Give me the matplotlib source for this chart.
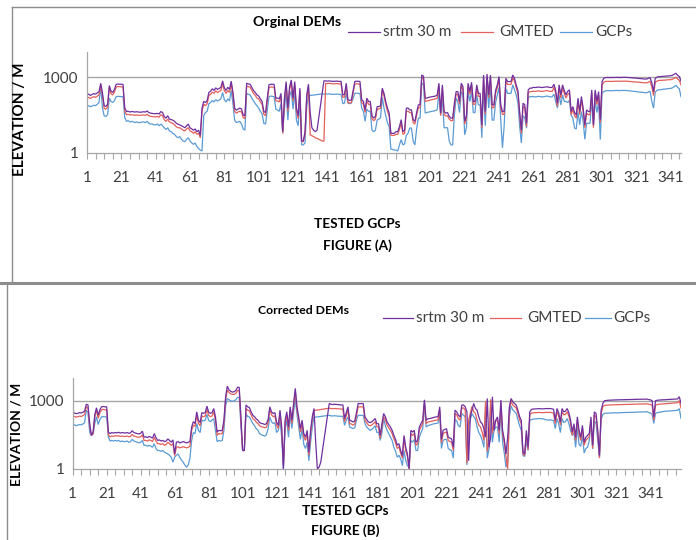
import numpy as np
import matplotlib
matplotlib.use("Agg")
import matplotlib.pyplot as plt
from matplotlib.lines import Line2D
from matplotlib.ticker import FixedLocator, NullLocator

nan = np.nan

# ---- Figure (A): original DEMs, elevation (m) for every tested GCP ----
srtm_a = [
   200, 215, 190, 210, 225, 215, 240, 270, 580, 240,
   75, 70, 85, 470, 280, 250, 330, 520, 540, 530,
   530, 520, 60, 44, 45, 42, 44, 43, 42, 43,
   42, 41, 42, 43, 42, 46, 40, 38, 37, 36,
   36, 37, 35, 44, 40, 28, 24, 30, 22, 21,
   20, 18, 15, 14, 13, 12, 11, 10, 12, 14,
   10, 9, 8, 9, 7, 8, 5, 60, 110, 100,
   120, 250, 280, 350, 300, 380, 330, 360, 400, 720,
   380, 300, 400, 330, 700, 260, 60, 50, 55, 60,
   55, 32, 30, 580, 540, 530, 400, 300, 250, 200,
   180, 140, 110, 44, 40, 150, 500, 530, 530, 520,
   148, 150, 140, 230, 7, 148, 675, 60, 430, 780,
   148, 675, 60, 30, 370, 3, 3, 7, 200, 530,
   40, 10, 8, 7, 8, nan, nan, nan, 720, 720,
   700, 720, 700, 690, 690, 700, 700, 680, 690, 200,
   210, 580, 130, 120, 128, 300, 675, 700, 690, 680,
   130, 110, 51, 148, 110, 110, 30, 24, 28, 69,
   69, 75, 370, 230, 110, 60, 38, 6, 6, 6,
   7, 7, 11, 21, 7, 8, 60, 60, 51, 51,
   21, 18, 40, 81, 81, 1230, 1100, 148, 150, 160,
   165, 170, 175, 180, 200, 580, 38, 500, 44, 38,
   40, 28, 24, 24, 94, 270, 270, 110, 580, 430,
   18, 30, 580, 270, 635, 110, 110, 500, 230, 230,
   13, 1230, 44, 1350, 200, 1230, 81, 81, 300, 500,
   1065, 81, 44, 44, 910, 675, 675, 675, 1230, 910,
   500, 300, 44, 8, 94, 81, 15, 315, 370, 370,
   400, 390, 400, 410, 400, 390, 400, 410, 420, 400,
   390, 400, 530, 300, 94, 500, 200, 500, 300, 200,
   280, 315, 44, 69, 40, 32, 148, 44, 172, 60,
   13, 51, 44, 44, 315, 13, 315, 110, 270, 21,
   675, 910, 970, 980, 980, 970, 980, 980, 990, 990,
   980, 990, 990, 1000, 990, 980, 970, 960, 940, 930,
   920, 900, 890, 880, 860, 850, 850, 910, 970, 600,
   270, 910, 1000, 1065, 1065, 1080, 1100, 1100, 1120, 1150,
   1150, 1200, 1300, 1440, 1200, 1065, 700]

gmted_a = [
   150, 160, 145, 160, 170, 160, 180, 200, 480, 190,
   58, 55, 65, 380, 220, 200, 260, 410, 430, 420,
   420, 400, 45, 33, 34, 32, 33, 32, 31, 32,
   31, 31, 32, 32, 31, 34, 30, 28, 28, 27,
   27, 28, 26, 33, 30, 21, 18, 22, 17, 16,
   15, 13, 11, 10, 10, 9, 8, 7.5, 9, 10,
   7.5, 7, 6, 7, 5.5, 6, 4, 45, 85, 75,
   90, 190, 210, 260, 230, 290, 250, 270, 300, 560,
   290, 230, 300, 250, 540, 200, 45, 38, 42, 45,
   42, 25, 23, 450, 420, 410, 300, 230, 190, 150,
   140, 105, 85, 34, 30, 115, 390, 410, 410, 400,
   115, 115, 105, 175, 6, 115, 520, 45, 330, 600,
   115, 520, 45, 23, 290, 2.8, 2.8, 5.3, 150, 410,
   5.3, 4.8, 4.5, 4.0, 3.8, 3.5, 3.2, 3.0, 2.9, 580,
   560, 580, 560, 550, 550, 560, 560, 540, 550, 160,
   165, 450, 100, 95, 100, 230, 530, 550, 540, 530,
   100, 85, 40, 115, 85, 85, 23, 19, 22, 55,
   55, 60, 300, 180, 85, 45, 30, 5, 5, 5,
   5.5, 5.5, 8.5, 16, 5.5, 6, 45, 45, 40, 40,
   16, 14, 31, 62, 62, 1000, 850, 110, 115, 120,
   125, 130, 135, 140, 150, 450, 30, 390, 34, 29,
   30, 22, 19, 19, 72, 210, 210, 85, 450, 330,
   14, 23, 450, 210, 500, 85, 85, 390, 175, 175,
   10, 950, 34, 1050, 155, 950, 62, 62, 230, 390,
   830, 62, 34, 34, 700, 520, 520, 520, 950, 700,
   390, 230, 34, 6, 72, 62, 11, 245, 270, 270,
   280, 275, 280, 290, 280, 275, 280, 290, 300, 280,
   275, 280, 400, 230, 70, 380, 150, 380, 230, 150,
   210, 240, 33, 52, 30, 24, 110, 33, 130, 45,
   10, 38, 33, 33, 240, 10, 240, 82, 200, 16,
   480, 640, 680, 690, 690, 680, 690, 690, 700, 700,
   690, 700, 700, 700, 700, 690, 680, 675, 660, 655,
   650, 640, 630, 620, 610, 600, 600, 640, 680, 420,
   190, 640, 700, 750, 750, 760, 770, 770, 790, 800,
   800, 840, 900, 1000, 850, 750, 500]

gcps_a = [
   70, 75, 68, 72, 78, 75, 85, 100, 430, 60,
   30, 28, 33, 148, 110, 100, 120, 170, 175, 172,
   172, 170, 25, 18, 19, 17, 18, 17, 16, 17,
   16, 16, 17, 17, 16, 18, 15, 14, 14, 13,
   13, 14, 12, 14, 12, 10, 8.5, 10, 7.5, 7,
   6, 5.5, 4.5, 4, 4.5, 3.5, 3, 2.8, 3.5, 4,
   3, 2.5, 2.2, 2.5, 1.8, 1.5, 1.3, 1.2, 30, 40,
   45, 90, 100, 120, 105, 130, 115, 125, 140, 250,
   130, 105, 140, 115, 300, 90, 20, 16, 17, 18,
   14, 9, 8, 230, 210, 200, 150, 115, 90, 75,
   60, 45, 35, 15, 14, 50, 170, 180, 175, 170,
   55, 50, 45, 90, 6, 55, 250, 20, 170, 290,
   55, 250, 20, 12, 130, 2.1, 2.1, 2.5, 70, 185,
   nan, nan, nan, nan, nan, nan, nan, 220, 215, 220,
   215, 220, 215, 210, 210, 215, 215, 210, 210, 90,
   95, 230, 95, 90, 95, 150, 230, 235, 230, 225,
   60, 45, 18, 55, 45, 45, 8, 7, 8, 20,
   22, 25, 160, 60, 30, 16, 11, 1.4, 1.4, 1.3,
   1.3, 1.2, 2.1, 3.4, 2.1, 2.3, 5, 6, 9.7, 9.7,
   2.9, 2.1, 9, 24, 24, 600, 500, 38, 40, 42,
   43, 45, 46, 48, 52, 250, 32, 150, 10, 10,
   10, 3, 2.1, 2.1, 32, 148, 110, 40, 270, 200,
   5.3, 10, 270, 110, 300, 40, 40, 200, 80, 80,
   4, 500, 12, 600, 60, 500, 20, 20, 100, 200,
   400, 20, 1.6, 12, 350, 230, 230, 230, 500, 330,
   200, 100, 12, 2.5, 30, 25, 9.7, 150, 170, 172,
   172, 165, 170, 175, 172, 165, 170, 175, 180, 172,
   165, 170, 215, 110, 60, 200, 80, 200, 110, 110,
   100, 120, 32, 24, 9.7, 9, 44, 13, 44, 18,
   3.5, 15, 15, 15, 128, 13, 120, 40, 100, 3.4,
   230, 270, 290, 295, 295, 290, 295, 295, 300, 300,
   295, 300, 300, 300, 300, 295, 290, 285, 280, 275,
   270, 265, 260, 255, 250, 245, 245, 260, 280, 110,
   60, 260, 300, 320, 320, 330, 340, 340, 350, 360,
   360, 380, 420, 480, 400, 350, 170]

# ---- Figure (B): corrected DEMs ----
srtm_b = [
   275, 290, 270, 280, 300, 290, 310, 350, 700, 650,
   100, 30, 42, 250, 490, 230, 400, 540, 560, 540,
   540, 42, 36, 40, 38, 40, 39, 41, 38, 40,
   39, 38, 40, 37, 39, 48, 40, 38, 36, 35,
   37, 46, 25, 26, 24, 27, 25, 23, 36, 24,
   18, 19, 17, 18, 16, 17, 21, 18, 15, 19,
   4.6, 15, 16, 14, 15, 16, 15, 14, 15, 16,
   70, 120, 100, 325, 140, 110, 300, 280, 300, 580,
   320, 280, 300, 455, 200, 42, 50, 48, 50, 140,
   1500, 4400, 3000, 2600, 2400, 2500, 2800, 3900, 3900, 195,
   6.5, 6.5, 650, 540, 500, 325, 230, 200, 160, 140,
   110, 100, 98, 90, 98, 150, 540, 325, 275, 300,
   117, 83, 385, 70, 1, 140, 325, 70, 540, 140,
   760, 3500, 540, 195, 59, 140, 36, 25, 50, 5.5,
   50, 200, 455, 15, 1, 1.2, 2, nan, nan, nan,
   nan, 760, 700, 680, 700, 690, 680, 670, 650, 660,
   165, 300, 540, 140, 130, 117, 130, 300, 760, 740,
   760, 750, 195, 150, 117, 110, 117, 140, 165, 98,
   98, 30, 100, 275, 200, 117, 90, 70, 50, 30,
   20, 11, 13, 6.5, 3.9, 30, 9, 4.6, 1, 50,
   42, 50, 15, 18, 70, 98, 140, 1100, 140, 160,
   165, 170, 180, 190, 195, 200, 540, 20, 50, 55,
   59, 25, 23, 21, 9, 385, 325, 230, 195, 650,
   650, 540, 325, 2.3, 195, 385, 760, 455, 385, 195,
   117, 98, 59, 25, 1260, 9, 25, 1500, 50, 140,
   195, 50, 1070, 50, 20, 4.6, 25, 540, 1260, 900,
   760, 650, 385, 200, 140, 5.5, 4.6, 50, 9, 325,
   420, 430, 440, 440, 450, 450, 440, 440, 450, 455,
   450, 455, 440, 420, 140, 455, 300, 117, 455, 325,
   350, 455, 300, 140, 42, 98, 25, 195, 50, 25,
   83, 15, 25, 30, 36, 195, 11, 325, 275, 50,
   3.9, 385, 760, 1000, 1030, 1050, 1060, 1070, 1080, 1080,
   1090, 1100, 1100, 1110, 1110, 1120, 1120, 1130, 1130, 1140,
   1140, 1150, 1150, 1160, 1160, 1170, 1170, 1180, 1180, 1120,
   1100, 1000, 195, 1000, 1050, 1070, 1080, 1100, 1100, 1120,
   1130, 1140, 1150, 1160, 1170, 1180, 1200, 1500, 760]

gmted_b = [
   195, 205, 190, 200, 210, 205, 220, 250, 540, 480,
   75, 30, 35, 190, 385, 170, 300, 400, 420, 400,
   400, 32, 26, 28, 27, 29, 28, 29, 27, 28,
   27, 27, 28, 26, 27, 33, 28, 27, 25, 25,
   26, 32, 18, 18, 17, 19, 18, 16, 25, 17,
   13, 13, 12, 13, 11, 12, 15, 13, 11, 13,
   3.9, 9, 9.5, 8.5, 9, 9.5, 9, 8.5, 9, 10,
   50, 85, 75, 240, 100, 80, 215, 200, 215, 420,
   230, 200, 215, 330, 140, 30, 36, 35, 36, 100,
   1100, 2950, 2300, 2000, 1900, 1900, 2100, 2800, 2800, 140,
   6.5, 6.5, 455, 385, 360, 240, 165, 145, 115, 100,
   80, 72, 70, 65, 70, 110, 400, 240, 200, 215,
   85, 60, 280, 50, 1.5, 100, 240, 50, 400, 100,
   560, 2600, 400, 140, 42, 100, 26, 18, 36, 4,
   36, 145, 385, 380, nan, nan, nan, nan, nan, nan,
   nan, 470, 455, 450, 455, 450, 445, 440, 430, 435,
   120, 215, 400, 100, 95, 85, 95, 215, 540, 530,
   540, 535, 140, 110, 85, 80, 85, 100, 120, 72,
   72, 22, 72, 200, 145, 85, 65, 50, 36, 22,
   14, 8, 9.5, 5, 3, 22, 6.5, 3.5, 1, 36,
   30, 36, 11, 13, 50, 70, 100, 850, 100, 115,
   120, 125, 130, 135, 140, 145, 400, 14, 36, 40,
   42, 18, 16, 15, 6.5, 280, 240, 165, 140, 480,
   480, 400, 1.8, 140, 280, 560, 330, 280, 140, 85,
   70, 42, 18, 950, 6, 18, 1150, 36, 100, 140,
   140, 36, 800, 36, 14, 3.5, 1, 400, 950, 650,
   560, 480, 280, 145, 100, 4.5, 4, 36, 7, 240,
   290, 295, 300, 300, 305, 305, 300, 300, 305, 310,
   305, 310, 300, 285, 100, 330, 215, 85, 330, 240,
   250, 330, 215, 100, 30, 70, 18, 140, 36, 18,
   60, 11, 18, 22, 26, 140, 8, 240, 200, 36,
   3, 280, 560, 620, 640, 650, 655, 660, 660, 665,
   670, 670, 675, 680, 680, 685, 690, 690, 695, 700,
   700, 705, 710, 710, 715, 720, 720, 725, 730, 700,
   680, 620, 140, 640, 680, 700, 710, 720, 730, 740,
   750, 760, 770, 780, 790, 800, 820, 1000, 480]

gcps_b = [
   83, 88, 80, 85, 90, 88, 95, 110, 385, 300,
   40, 30, 35, 100, 200, 90, 150, 195, 200, 195,
   195, 25, 17, 18, 17, 18, 17, 18, 16, 17,
   16, 16, 17, 15, 16, 20, 17, 16, 15, 14,
   15, 18, 11, 11, 10, 11, 10, 9, 13, 8,
   6.5, 6.5, 6, 6.5, 5.5, 5, 4.6, 4, 3.3, 2,
   3.3, 4, 4.6, 3.3, 2.5, 2, 1.5, 1.2, 1.5, 3,
   18, 40, 36, 100, 50, 40, 140, 130, 140, 250,
   140, 120, 140, 165, 50, 16, 18, 17, 18, 50,
   600, 1260, 1100, 1000, 950, 1000, 1100, 1400, 1400, 80,
   6.5, 6.5, 275, 200, 195, 140, 100, 80, 60, 50,
   36, 32, 30, 28, 32, 60, 195, 120, 100, 110,
   40, 50, 140, 25, 1, 60, 140, 25, 250, 60,
   300, 1200, 250, 70, 20, 60, 12, 8, 15, 2.3,
   15, 70, 195, 190, nan, nan, nan, nan, nan, nan,
   nan, 230, 215, 215, 220, 215, 210, 210, 205, 210,
   83, 140, 195, 70, 65, 60, 65, 140, 230, 225,
   230, 225, 100, 70, 59, 50, 55, 65, 80, 40,
   42, 18, 40, 165, 80, 50, 36, 25, 18, 9,
   6, 3.3, 4, 2.8, 1.4, 6.5, 2.3, 1.4, 1.2, 18,
   15, 20, 6.5, 6.5, 25, 40, 60, 700, 70, 80,
   85, 90, 95, 98, 100, 105, 300, 8, 18, 20,
   20, 8, 7, 6.5, 3, 150, 130, 80, 70, 275,
   230, 195, 1.5, 70, 150, 275, 200, 160, 70, 40,
   30, 18, 9, 600, 3, 8, 700, 15, 50, 70,
   70, 15, 500, 15, 5, 1.2, 2, 200, 600, 400,
   330, 280, 150, 80, 50, 4, 3.5, 18, 6.5, 140,
   150, 155, 160, 160, 165, 165, 160, 160, 150, 145,
   140, 145, 140, 135, 60, 165, 100, 40, 165, 110,
   120, 165, 100, 50, 30, 40, 9, 70, 12, 10,
   30, 5, 8, 9, 18, 100, 7.5, 130, 100, 18,
   3.3, 150, 250, 280, 285, 285, 290, 290, 290, 295,
   295, 295, 300, 300, 300, 305, 305, 305, 310, 310,
   310, 315, 315, 320, 320, 320, 325, 325, 330, 300,
   290, 250, 100, 280, 300, 310, 320, 330, 340, 345,
   350, 355, 360, 365, 370, 375, 380, 450, 165]

series_names = ["srtm 30 m", "GMTED", "GCPs"]
series_colors = ["#7030A0", "#E4605A", "#5B9BD5"]

W, H = 696, 540
plt.rcParams['font.family'] = ['Lato', 'DejaVu Sans']
fig = plt.figure(figsize=(W / 100, H / 100), dpi=100)
GRAY = "#A6A6A6"

# pixel box -> figure fraction
def px_rect(x0, y0, x1, y1):
   return [x0 / W, 1 - y1 / H, (x1 - x0) / W, (y1 - y0) / H]

def fx(x):
   return x / W

def fy(y):
   return 1 - y / H


def draw_panel(box, series, title, title_xy, title_size, legend_y, legend_x,
               ylab_xy, ylab_size, xlab_xy, fig_label):
   ax = fig.add_axes(px_rect(*box))
   n = len(series[0])
   x = np.arange(1, n + 1)
   # blue first, purple last so it ends on top
   for vals, col in reversed(list(zip(series, series_colors))):
      y = np.asarray(vals, dtype=float)
      ok = ~np.isnan(y)
      ax.plot(x[ok], y[ok], color=col, lw=0.9, solid_joinstyle="miter")
   ax.set_yscale("log")
   ax.set_ylim(1, 10000)
   ax.set_xlim(1, n)
   ax.yaxis.set_major_locator(FixedLocator([1, 1000]))
   ax.yaxis.set_minor_locator(NullLocator())
   ax.set_yticklabels(["1", "1000"])
   ax.axhline(1000, color=GRAY, lw=1.0, zorder=0)
   ax.set_xticks(np.arange(1, 342, 20))
   ax.set_xticks(np.arange(1, n + 1, 5), minor=True)
   ax.tick_params(axis="y", length=0, pad=6, labelsize=11, colors="#404040")
   ax.tick_params(axis="x", which="both", length=4, width=0.8, color=GRAY,
                  pad=9, labelsize=11, labelcolor="#404040")
   for s in ["top", "right"]:
      ax.spines[s].set_visible(False)
   for s in ["left", "bottom"]:
      ax.spines[s].set_color(GRAY)
      ax.spines[s].set_linewidth(0.9)

   fig.text(fx(title_xy[0]), fy(title_xy[1]), title, ha="center", va="center",
            fontsize=title_size, fontweight="bold")
   for (lx0, lx1, tx), name, col in zip(legend_x, series_names, series_colors):
      fig.add_artist(Line2D([fx(lx0), fx(lx1)], [fy(legend_y), fy(legend_y)],
                            color=col, lw=0.9, transform=fig.transFigure))
      fig.text(fx(tx), fy(legend_y), name, ha="left", va="center",
               fontsize=11, color="#404040")
   fig.text(fx(ylab_xy[0]), fy(ylab_xy[1]), "ELEVATION / M", rotation=90,
            ha="center", va="center", fontsize=ylab_size, fontweight="bold")
   fig.text(fx(xlab_xy[0]), fy(xlab_xy[1]), "TESTED GCPs", ha="center", va="center",
            fontsize=9.8, fontweight="bold")
   fig.text(fx(xlab_xy[0]), fy(xlab_xy[2]), fig_label, ha="center", va="center",
            fontsize=9.8, fontweight="bold")
   return ax


draw_panel((87, 52, 681, 153), [srtm_a, gmted_a, gcps_a], "Orginal DEMs", (297, 22), 10.2,
           32, [(348, 380, 383), (461, 493, 499), (560, 592, 595)],
           (20, 119), 11, (357, 224, 246), "FIGURE (A)")
draw_panel((72.7, 378, 681, 469), [srtm_b, gmted_b, gcps_b], "Corrected DEMs", (304, 311), 8.8,
           318, [(383, 413, 416), (490, 521, 527), (585, 611, 613)],
           (17, 434), 10, (345, 511, 531), "FIGURE (B)")

# frame lines around the two figure boxes
frame = "#8C8C8C"
fig.add_artist(Line2D([fx(12), fx(696)], [fy(7), fy(7)], color=frame, lw=1.0, transform=fig.transFigure))
fig.add_artist(Line2D([fx(12), fx(12)], [fy(7), fy(283)], color=frame, lw=1.0, transform=fig.transFigure))
fig.add_artist(Line2D([fx(0), fx(696)], [fy(283), fy(283)], color=frame, lw=2.2, transform=fig.transFigure))
fig.add_artist(Line2D([fx(7), fx(7)], [fy(283), fy(540)], color=frame, lw=1.0, transform=fig.transFigure))

fig.savefig("out.png", dpi=100)
